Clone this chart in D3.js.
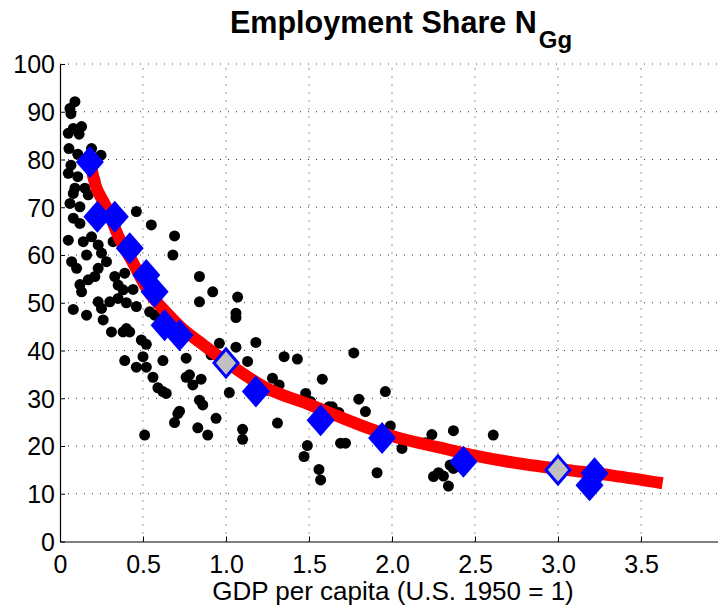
<!DOCTYPE html>
<html>
<head>
<meta charset="utf-8">
<script src="https://cdn.jsdelivr.net/npm/d3@7"></script>
<style>
  body { margin: 0; background: #fff; }
  svg text { font-family: "Liberation Sans", Arial, sans-serif; fill: #000; }
</style>
</head>
<body>
<script>
// scatter of countries (GDP per capita, employment share)
var scatterPoints = [
  [0.09,92.1],[0.06,90.7],[0.066,89.6],[0.08,86.5],[0.13,86.9],[0.05,85.5],[0.115,85.3],
  [0.054,82.3],[0.107,81.1],[0.19,82.3],[0.247,80.9],[0.066,78.8],[0.05,77.1],[0.107,76.4],
  [0.21,75.7],[0.09,74],[0.15,74],[0.08,72.9],[0.17,72.6],[0.06,70.8],[0.12,70.1],
  [0.08,67.7],[0.12,66.6],[0.46,69.1],[0.55,66.3],[0.05,63.1],[0.14,62.8],[0.19,63.8],
  [0.23,62.1],[0.32,62.8],[0.16,60],[0.25,60.4],[0.07,58.6],[0.10,57.2],[0.23,57.2],
  [0.28,58.6],[0.21,55.5],[0.33,55.5],[0.39,56.2],[0.17,54.8],[0.12,53.8],[0.13,52.3],
  [0.35,53.7],[0.38,52.7],[0.44,52.8],[0.69,64.0],[0.68,60],[0.84,55.5],[0.92,52.3],
  [0.84,50.2],[1.07,51.2],[0.23,50.2],[0.30,50.2],[0.35,50.9],[0.25,48.8],[0.40,50.0],
  [0.46,49.2],[0.08,48.6],[0.16,47.4],[0.26,46.4],[0.54,48.1],[0.57,47.4],[0.31,43.9],
  [0.38,43.9],[0.40,44.6],[0.42,43.9],[0.49,42.2],[0.52,41.3],[0.39,37.9],[0.50,38.7],
  [0.46,36.5],[0.52,36.5],[0.62,37.9],[0.56,34.4],[0.59,32.2],[0.62,31.4],[0.51,22.3],
  [1.06,47.8],[1.06,46.9],[0.96,41.5],[1.06,40.7],[1.18,41.7],[0.91,39.1],[0.76,38.4],
  [1.13,37.7],[1.35,38.7],[1.43,38.2],[0.76,34.4],[0.78,34.9],[0.85,34.0],[0.80,32.8],
  [0.64,31.0],[1.02,31.2],[1.28,34.2],[1.32,32.8],[1.25,31.7],[0.84,29.6],[0.86,28.6],
  [0.72,27.3],[0.71,26.8],[0.94,25.8],[0.69,24.9],[0.83,23.8],[0.89,22.3],[1.10,23.5],
  [1.10,21.4],[1.31,24.8],[1.77,39.5],[1.58,34.0],[1.48,31.0],[1.51,29.3],[1.62,28.2],
  [1.64,28.2],[1.68,27.0],[1.80,29.8],[1.84,27.2],[1.96,31.4],[1.99,24.2],[1.69,20.6],
  [1.72,20.6],[1.49,20.1],[1.47,17.8],[1.56,15.1],[1.91,14.4],[1.57,12.9],[2.06,19.5],
  [2.24,22.4],[2.20,20.7],[2.37,23.2],[2.35,16.0],[2.37,15.3],[2.25,13.6],[2.28,14.4],
  [2.31,13.7],[2.34,11.6],[2.61,22.3]
];

// fitted curve
var fitCurve = [
  [0.18,80],[0.22,74],[0.28,70],[0.36,63.3],[0.43,59],[0.54,52],[0.64,48],[0.74,44.5],
  [0.87,41],[1.0,37.6],[1.25,32],[1.5,28.7],[1.67,26.3],[1.87,23.6],[2.07,21.4],
  [2.27,19.8],[2.47,18.2],[2.7,16.7],[3.0,15.2],[3.33,13.8],[3.63,12.2]
];

// blue diamonds
var blueDiamonds = [
  [0.18,79.5],[0.225,68.0],[0.33,68.0],[0.42,61.4],[0.52,55.8],[0.57,52.3],[0.63,45.3],
  [0.72,43.2],[1.18,31.4],[1.57,25.4],[1.94,21.7],[2.43,16.7],[3.19,11.8],[3.22,14.3]
];

// grey diamonds (outlined)
var greyDiamonds = [[1.0,37.4],[3.0,15.0]];

var xTicks = [0, 0.5, 1.0, 1.5, 2.0, 2.5, 3.0, 3.5];
var yTicks = [0, 10, 20, 30, 40, 50, 60, 70, 80, 90, 100];

var width = 718, height = 609;

var svg = d3.select("body").append("svg")
    .attr("width", width)
    .attr("height", height);

var x = d3.scaleLinear().domain([0, 4]).range([60, 724]);
var y = d3.scaleLinear().domain([0, 100]).range([541.5, 64]);

// grid
svg.append("g").selectAll("line")
  .data(xTicks.slice(1))
  .enter().append("line")
    .attr("x1", function(d) { return x(d); })
    .attr("x2", function(d) { return x(d); })
    .attr("y1", y(0)).attr("y2", y(100))
    .attr("stroke", "#333").attr("stroke-width", 1)
    .attr("stroke-dasharray", "1,7");

svg.append("g").selectAll("line")
  .data(yTicks.slice(1))
  .enter().append("line")
    .attr("x1", x(0)).attr("x2", x(4))
    .attr("y1", function(d) { return y(d); })
    .attr("y2", function(d) { return y(d); })
    .attr("stroke", "#333").attr("stroke-width", 1)
    .attr("stroke-dasharray", "1,7");

// axes
var xAxis = svg.append("g")
    .attr("transform", "translate(0," + y(0) + ")")
    .call(d3.axisBottom(x).tickValues(xTicks).tickSizeInner(-5).tickSizeOuter(0)
      .tickPadding(14)
      .tickFormat(function(d) { return d === 0 ? "0" : d3.format(".1f")(d); }));

var yAxis = svg.append("g")
    .attr("transform", "translate(" + x(0) + ",0)")
    .call(d3.axisLeft(y).tickValues(yTicks).tickSizeInner(-5).tickSizeOuter(0)
      .tickPadding(5));

[xAxis, yAxis].forEach(function(g) {
  g.select(".domain").attr("stroke", "#000").attr("stroke-width", 1.2);
  g.selectAll(".tick line").attr("stroke", "#000");
  g.selectAll(".tick text")
    .style("font-size", "25px")
    .attr("fill", "#000");
});
xAxis.selectAll(".tick text").attr("dy", "0.68em");
yAxis.selectAll(".tick text").attr("dy", "0.35em");

// scatter
svg.append("g").selectAll("circle")
  .data(scatterPoints)
  .enter().append("circle")
    .attr("cx", function(d) { return x(d[0]); })
    .attr("cy", function(d) { return y(d[1]); })
    .attr("r", 5.5)
    .attr("fill", "#000");

// fitted line
var line = d3.line()
    .curve(d3.curveCatmullRom)
    .x(function(d) { return x(d[0]); })
    .y(function(d) { return y(d[1]); });

svg.append("path")
    .datum(fitCurve)
    .attr("d", line)
    .attr("fill", "none")
    .attr("stroke", "#ff0000")
    .attr("stroke-width", 12)
    .attr("stroke-linejoin", "round");

function diamond(w, h) {
  return "M0," + (-h) + "L" + w + ",0L0," + h + "L" + (-w) + ",0Z";
}

svg.append("g").selectAll("path")
  .data(blueDiamonds)
  .enter().append("path")
    .attr("transform", function(d) { return "translate(" + x(d[0]) + "," + y(d[1]) + ")"; })
    .attr("d", diamond(14, 16))
    .attr("fill", "#0000ff");

svg.append("g").selectAll("path")
  .data(greyDiamonds)
  .enter().append("path")
    .attr("transform", function(d) { return "translate(" + x(d[0]) + "," + y(d[1]) + ")"; })
    .attr("d", diamond(12, 14))
    .attr("fill", "#c0c0c0")
    .attr("stroke", "#0000ff")
    .attr("stroke-width", 3);

// title
var title = svg.append("text")
    .attr("x", 230).attr("y", 33)
    .attr("text-anchor", "start")
    .style("font-size", "30.5px")
    .style("font-weight", "bold");
title.append("tspan").text("Employment Share N");
title.append("tspan").attr("dx", 2).attr("dy", 15).style("font-size", "24px").text("Gg");

// x label
svg.append("text")
    .attr("x", 393).attr("y", 600)
    .attr("text-anchor", "middle")
    .style("font-size", "26px")
    .text("GDP per capita (U.S. 1950 = 1)");
</script>
</body>
</html>
